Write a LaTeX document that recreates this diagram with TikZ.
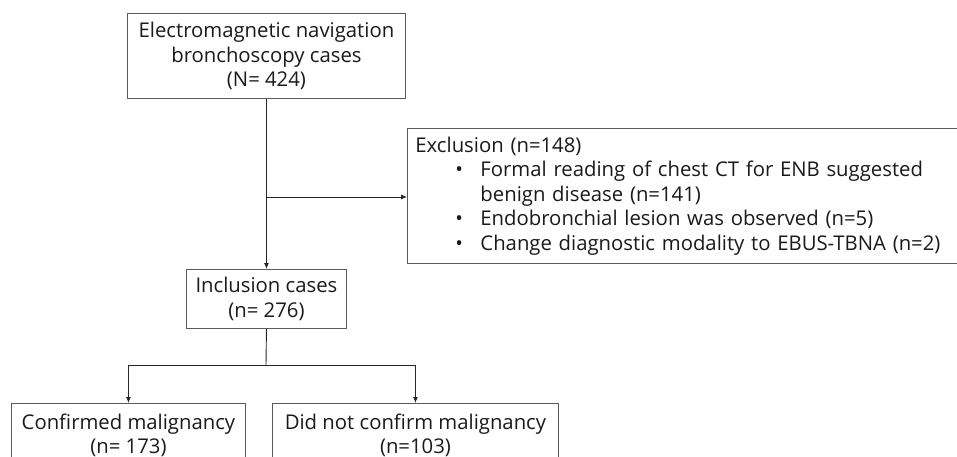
\documentclass[tikz,border=0pt]{standalone}
\usepackage{fontspec}
\setmainfont{Open Sans}
\usetikzlibrary{arrows.meta}
\definecolor{boxline}{HTML}{5A5A5A}
\definecolor{conn}{HTML}{262626}
\definecolor{txt}{HTML}{1A1A1A}
\tikzset{
  box/.style={draw=boxline, line width=0.9pt, rectangle, align=center, text=txt,
    font=\fontsize{20.3}{24.5}\selectfont, inner sep=0pt},
  conline/.style={draw=conn, line width=0.9pt},
  arr/.style={conline, -{Latex[length=6pt,width=5pt]}}
}
\begin{document}
\begin{tikzpicture}[x=1pt,y=1pt]
\clip (0,0) rectangle (957,-457);
\fill[white] (0,0) rectangle (957,-457);
\node[box, anchor=north west, minimum width=278, minimum height=85] (top) at (127,-13)
  {Electromagnetic navigation\\ bronchoscopy cases\\ (N= 424)};
\node[box, anchor=north west, minimum width=160, minimum height=59] (inc) at (186,-269)
  {Inclusion cases\\ (n= 276)};
\node[box, anchor=north west, minimum width=570, minimum height=135, text width=554,
  align=left, inner xsep=8pt] (exc) at (407,-128)
  {Exclusion (n=148)\\
   \hspace*{40pt}\makebox[25pt][l]{•}Formal reading of chest CT for ENB suggested\\
   \hspace*{65pt}benign disease (n=141)\\
   \hspace*{40pt}\makebox[25pt][l]{•}Endobronchial lesion was observed (n=5)\\
   \hspace*{40pt}\makebox[25pt][l]{•}Change diagnostic modality to EBUS-TBNA (n=2)};
\node[box, anchor=north west, minimum width=234, minimum height=64] (c1) at (11,-403)
  {Confirmed malignancy\\ (n= 173)};
\node[box, anchor=north west, minimum width=286, minimum height=64] (c2) at (272,-403)
  {Did not confirm malignancy\\ (n=103)};
\coordinate (j1) at (266,-197);
\coordinate (j2) at (266,-365);
\draw[arr] (top.south) -- (inc.north);
\draw[arr] (j1) -- (j1 -| exc.west);
\draw[conline] (inc.south) -- (j2);
\draw[arr] (j2) -| (c1.north);
\draw[arr] (j2) -| (c2.north);
\end{tikzpicture}
\end{document}
